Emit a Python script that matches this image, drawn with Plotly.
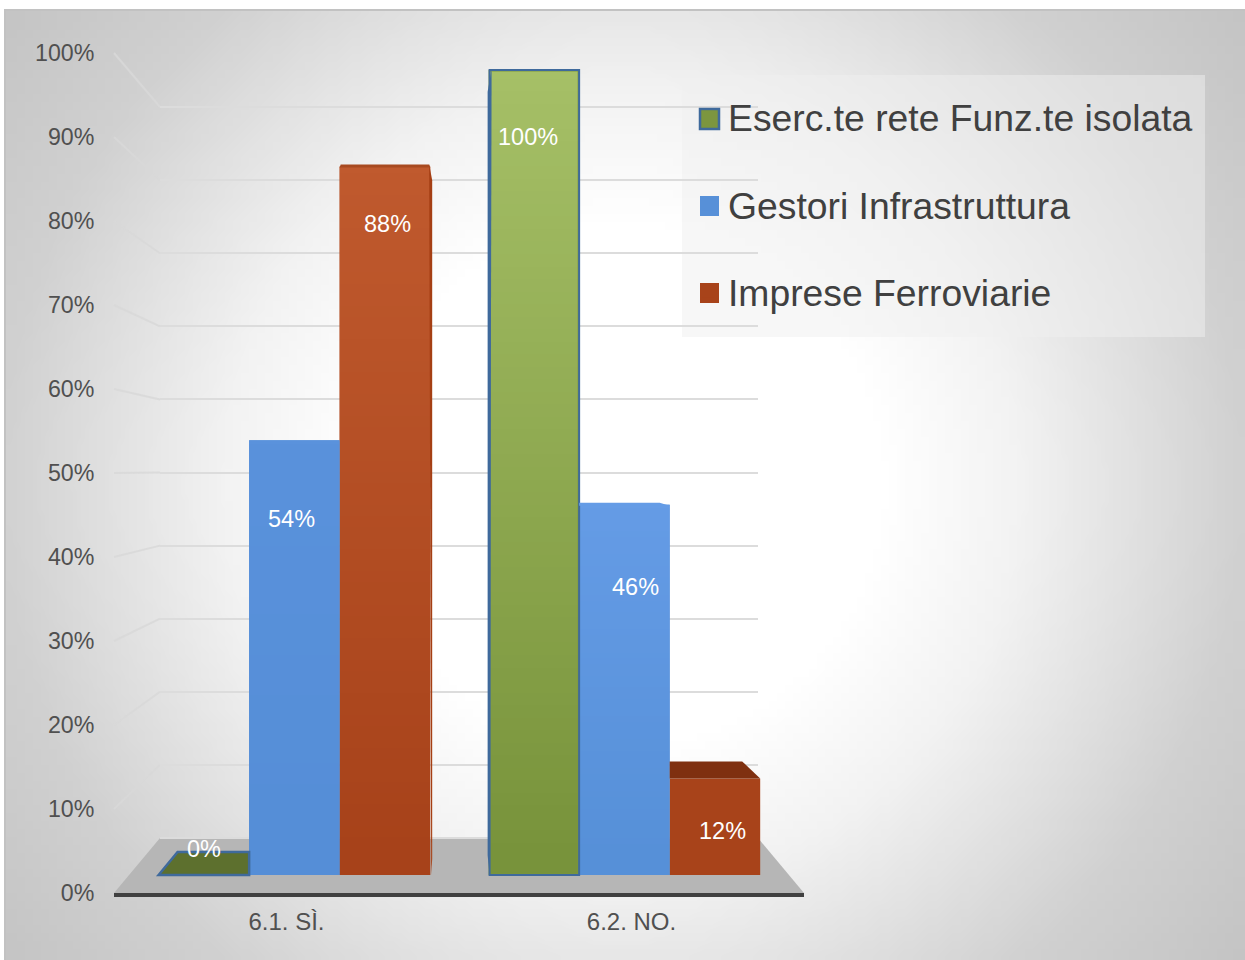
import base64, struct, zlib
import numpy as np
import plotly.graph_objects as go

categories = ["6.1. SÌ.", "6.2. NO."]
series_names = ["Eserc.te rete Funz.te isolata", "Gestori Infrastruttura", "Imprese Ferroviarie"]
esercenti = [0, 100]
gestori = [54, 46]
imprese = [88, 12]
tick_values = [0, 10, 20, 30, 40, 50, 60, 70, 80, 90, 100]
tick_labels = ["0%", "10%", "20%", "30%", "40%", "50%", "60%", "70%", "80%", "90%", "100%"]

W, H = 1245, 960
FONT = "Liberation Sans"
GREEN, BLUE, RED = "#7c963f", "#5790d8", "#a8431a"
EDGE = "#3f6a9c"


def png(rows):
    """rows: uint8 array h x w x 4"""
    h, w = rows.shape[:2]
    raw = b"".join(b"\x00" + rows[i].tobytes() for i in range(h))
    def chunk(t, d):
        return struct.pack(">I", len(d)) + t + d + struct.pack(">I", zlib.crc32(t + d) & 0xffffffff)
    data = (b"\x89PNG\r\n\x1a\n" + chunk(b"IHDR", struct.pack(">IIBBBBB", w, h, 8, 6, 0, 0, 0))
            + chunk(b"IDAT", zlib.compress(raw)) + chunk(b"IEND", b""))
    return "data:image/png;base64," + base64.b64encode(data).decode()


def hex_rgb(c):
    return [int(c[i:i + 2], 16) for i in (1, 3, 5)]


def vgrad(top, bottom, n=64):
    t = np.linspace(0, 1, n)[:, None]
    rgb = (1 - t) * np.array(hex_rgb(top)) + t * np.array(hex_rgb(bottom))
    out = np.zeros((n, 2, 4), dtype=np.uint8)
    out[:, 0, :3] = rgb
    out[:, 1, :3] = rgb
    out[:, :, 3] = 255
    return png(out)


def background():
    nx, ny = 155, 119
    xs = np.linspace(5, W, nx)
    ys = np.linspace(10, H, ny)
    X, Y = np.meshgrid(xs, ys)
    d = np.hypot(X - 622, Y - 485)
    g = np.interp(d, [270, 400, 500, 625, 780, 900], [255, 243, 228, 209, 197, 190])
    out = np.zeros((ny, nx, 4), dtype=np.uint8)
    out[:, :, :3] = g[:, :, None]
    out[:, :, 3] = 255
    return png(out)


def px(x):
    return x / W


def py(y):
    return 1 - y / H


def dom(a, b):
    return [px(a), px(b)]


def ydom(bottom, top):
    return [py(bottom), py(top)]


# three vertical planes of the pseudo-3D chart, in pixels
GRID_Y0, GRID_Y100 = 838, 107
TICK_Y0, TICK_Y100 = 893, 53
BAR_Y0, BAR_Y100 = 875, 70
BAR_X0, BAR_X1 = 129.4, 789.4
BAR_GAP = 0.177


def y_grid(v):
    return GRID_Y0 + (GRID_Y100 - GRID_Y0) * v / 100


def y_tick(v):
    return TICK_Y0 + (TICK_Y100 - TICK_Y0) * v / 100


def y_bar(v):
    return BAR_Y0 + (BAR_Y100 - BAR_Y0) * v / 100


def bar_x(cat, ser):
    slot = (BAR_X1 - BAR_X0) / 2
    bw = slot * (1 - BAR_GAP) / 3
    left = BAR_X0 + slot * cat + slot * BAR_GAP / 2 + ser * bw
    return left, left + bw


fig = go.Figure()

# back plane with gridlines
fig.add_trace(go.Scatter(x=categories, y=[None, None], xaxis="x", yaxis="y", mode="lines",
                         showlegend=False, hoverinfo="skip"))
# front plane carrying tick labels and axis line
fig.add_trace(go.Scatter(x=categories, y=[None, None], xaxis="x2", yaxis="y2", mode="lines",
                         showlegend=False, hoverinfo="skip"))
# bars
for name, vals, col in [
    (series_names[0], esercenti, GREEN),
    (series_names[1], gestori, BLUE),
    (series_names[2], imprese, RED),
]:
    fig.add_trace(go.Bar(x=categories, y=vals, name=name, xaxis="x3", yaxis="y3", legendgroup=name,
                         marker=dict(color=col, line=dict(width=0))))

shapes = []
# panel
shapes.append(dict(type="rect", xref="paper", yref="paper", x0=px(5), x1=px(W + 4), y0=py(H + 4), y1=py(10),
                   line=dict(color="#c2c2c2", width=2), fillcolor="rgba(0,0,0,0)", layer="below"))
# legend panel
shapes.append(dict(type="rect", xref="paper", yref="paper", x0=px(682), x1=px(1205), y0=py(337), y1=py(75),
                   line=dict(width=0), fillcolor="rgba(240,240,240,0.5)", layer="below"))


def poly(points, color, layer="above", lw=0, lc=None):
    p = "M" + " L".join(f"{px(x):.5f},{py(y):.5f}" for x, y in points) + " Z"
    return dict(type="path", path=p, xref="paper", yref="paper", fillcolor=color,
                line=dict(width=lw, color=lc or color), layer=layer)


# floor
shapes.append(poly([(160, y_grid(0)), (758, y_grid(0)), (804, y_tick(0)), (114, y_tick(0))], "#b6b6b6", "below"))
# wall stubs
for v in tick_values[1:]:
    shapes.append(dict(type="line", xref="paper", yref="paper", x0=px(114), x1=px(160),
                       y0=py(y_tick(v)), y1=py(y_grid(v)), layer="below",
                       line=dict(color="rgba(216,216,216,0.85)", width=2)))

# 3D sides of the bars
l, r = bar_x(0, 0)
shapes.append(poly([(l, y_bar(0)), (l + 19, y_bar(0) - 23), (r, y_bar(0) - 23), (r, y_bar(0))], "#5d702e",
                   "above", 2.5, EDGE))
l, r = bar_x(1, 0)
shapes.append(poly([(l + 3, y_bar(100) - 1), (l - 1, y_bar(100) + 22), (l - 1, y_bar(0) - 20), (l + 1, y_bar(0))],
                   EDGE))
shapes.append(dict(type="rect", xref="paper", yref="paper", x0=px(l + 1), x1=px(r), y0=py(y_bar(0)), y1=py(y_bar(100)),
                   line=dict(color=EDGE, width=2), fillcolor="rgba(0,0,0,0)", layer="above"))
l, r = bar_x(0, 2)
shapes.append(poly([(r - 1, y_bar(88) - 2), (r + 2, y_bar(88) + 14), (r + 2, y_bar(0) - 16), (r + 1, y_bar(0))],
                   "#a53f14"))
shapes.append(poly([(l, y_bar(88) + 1), (l + 1, y_bar(88) - 2), (r - 1, y_bar(88) - 2), (r, y_bar(88) + 1)],
                   "#a84a20"))
l, r = bar_x(1, 1)
shapes.append(poly([(l, y_bar(46) + 1), (l, y_bar(46) - 2), (r - 10, y_bar(46) - 2), (r, y_bar(46) + 1)], "#659ce6"))
l, r = bar_x(1, 2)
shapes.append(poly([(l, y_bar(12)), (l, y_bar(12) - 17), (r - 18, y_bar(12) - 17), (r, y_bar(12))], "#7f3010"))

# legend swatches sit behind the (smaller) native legend keys
for yc, col, lw in [(119, GREEN, 2.5), (206, BLUE, 0), (293, RED, 0)]:
    shapes.append(dict(type="rect", xref="paper", yref="paper", x0=px(700), x1=px(719), y0=py(yc + 10), y1=py(yc - 10),
                       fillcolor=col, line=dict(color=EDGE if lw else col, width=lw), layer="above"))

# gradient sheen on the tall bars
images = [dict(source=background(), xref="paper", yref="paper", x=px(5), y=py(10), sizex=px(W - 5),
               sizey=(H - 10) / H, sizing="stretch", xanchor="left", yanchor="top", layer="below")]
for cat, ser, val, top, bottom, inset in [
    (1, 0, esercenti[1], "#a6c067", "#78933b", 1.5),
    (0, 2, imprese[0], "#c05a2e", "#a7421a", 0),
    (1, 1, gestori[1], "#659ce6", "#5690d8", 0),
    (0, 1, gestori[0], "#5a92dc", "#558ed7", 0),
]:
    l, r = bar_x(cat, ser)
    images.append(dict(source=vgrad(top, bottom), xref="paper", yref="paper", x=px(l + inset),
                       y=py(y_bar(val) + inset), sizex=(r - l - 2 * inset) / W,
                       sizey=(y_bar(0) - y_bar(val) - 2 * inset) / H, sizing="stretch",
                       xanchor="left", yanchor="top", layer="above"))

# data labels
label_items = [
    (esercenti[0], 204, 849), (gestori[0], 291.5, 519), (imprese[0], 387, 224),
    (esercenti[1], 527.5, 137), (gestori[1], 635.5, 587), (imprese[1], 722.5, 831),
]
annotations = [dict(text=f"{v}%", xref="paper", yref="paper", x=px(x), y=py(y), showarrow=False,
                    xanchor="center", yanchor="middle", font=dict(family=FONT, size=23.5, color="#ffffff"))
               for v, x, y in label_items]

hidden = dict(showgrid=False, zeroline=False, showticklabels=False, ticks="", showline=False)
fig.update_layout(
    width=W, height=H, margin=dict(l=0, r=0, t=0, b=0, autoexpand=False), autosize=False,
    paper_bgcolor="#ffffff", plot_bgcolor="rgba(0,0,0,0)",
    barmode="group", bargap=BAR_GAP, bargroupgap=0,
    font=dict(family=FONT, color="#505050"),
    shapes=shapes, images=images, annotations=annotations,
    xaxis=dict(domain=dom(160, 758), type="category", anchor="y", range=[-0.5, 1.5], **hidden),
    # a little headroom so the 100% gridline is not dropped at the edge of the axis
    yaxis=dict(domain=ydom(y_grid(-2), y_grid(102)), anchor="x", range=[-2, 102], tickvals=tick_values,
               showgrid=True, gridcolor="#dcdcdc", gridwidth=2, zeroline=False, showticklabels=False,
               ticks="", showline=False),
    xaxis2=dict(domain=dom(114, 804), type="category", anchor="y2", range=[-0.5, 1.5], showgrid=False,
                zeroline=False, showline=True, linecolor="#404040", linewidth=3.5, ticks="outside",
                ticklen=4.5, tickcolor="rgba(0,0,0,0)", tickfont=dict(family=FONT, size=24, color="#505050")),
    yaxis2=dict(domain=ydom(TICK_Y0, TICK_Y100), anchor="x2", range=[0, 100], tickvals=tick_values,
                ticktext=tick_labels, showgrid=False, zeroline=False, showline=False, ticks="outside",
                ticklen=14, tickcolor="rgba(0,0,0,0)", tickfont=dict(family=FONT, size=23.2, color="#505050")),
    xaxis3=dict(domain=dom(BAR_X0, BAR_X1), type="category", anchor="y3", range=[-0.5, 1.5], **hidden),
    yaxis3=dict(domain=ydom(BAR_Y0, BAR_Y100), anchor="x3", range=[0, 100], **hidden),
    legend=dict(x=px(688), y=py(86), xanchor="left", yanchor="top", bgcolor="rgba(0,0,0,0)",
                font=dict(family=FONT, size=37.3, color="#404040"), tracegroupgap=36, itemwidth=30,
                traceorder="grouped", itemclick=False, itemdoubleclick=False),
)

fig.write_html("out.html", config=dict(displayModeBar=False),
               post_script="document.body.style.margin='0';document.body.style.overflow='hidden';")
